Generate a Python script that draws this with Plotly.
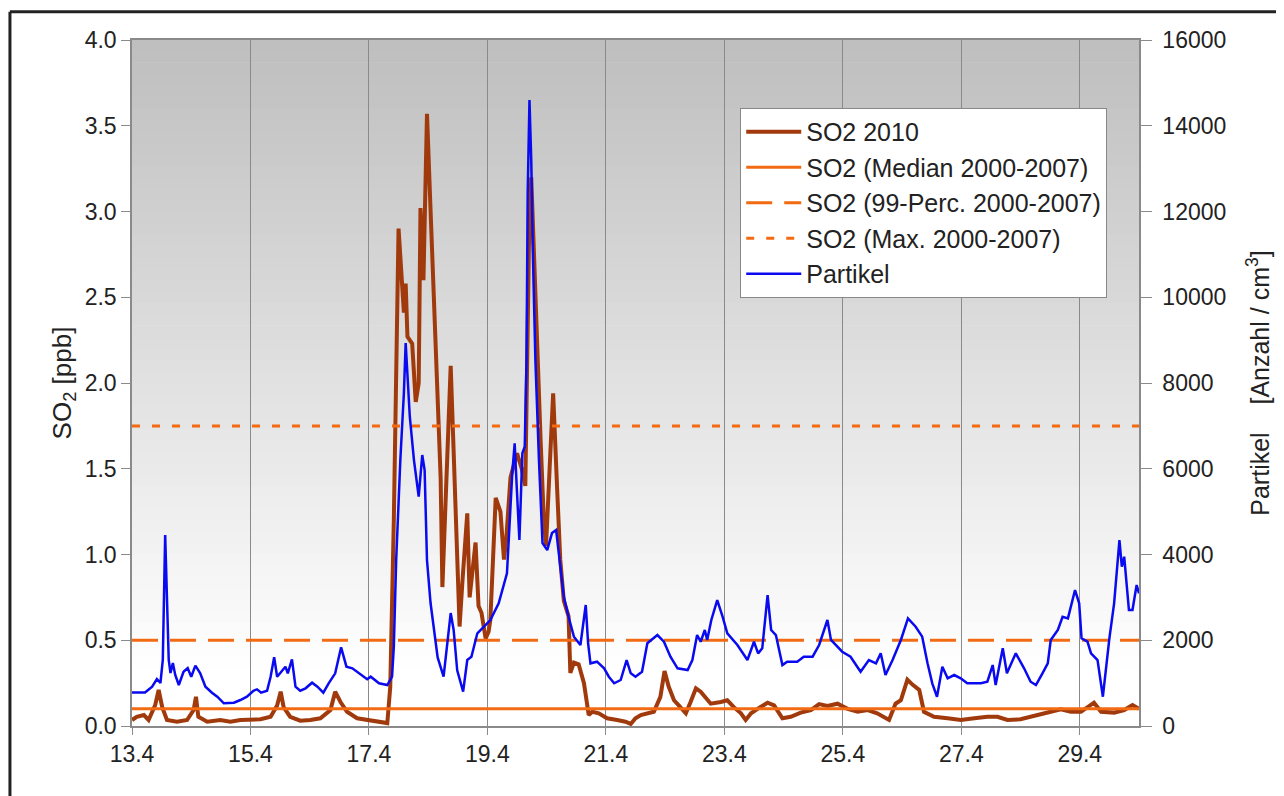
import plotly.graph_objects as go

# ---------------- data ----------------
# time in days of April (13.4 = 13 April)
so2_day = [13.00, 13.08, 13.20, 13.28, 13.39, 13.45, 13.51, 13.59, 13.76, 13.93, 14.04, 14.08, 14.12,
           14.27, 14.49, 14.66, 14.83, 15.00, 15.17, 15.34, 15.45, 15.51, 15.56, 15.67, 15.84, 16.01,
           16.18, 16.35, 16.43, 16.52, 16.63, 16.80, 16.97, 17.14, 17.31, 17.36, 17.42, 17.50, 17.59,
           17.62, 17.65, 17.73, 17.79, 17.84, 17.87, 17.92, 17.98, 18.04, 18.12, 18.21, 18.24, 18.38,
           18.43, 18.49, 18.53, 18.58, 18.66, 18.70, 18.75, 18.80, 18.85, 18.90, 18.97, 19.02, 19.05,
           19.10, 19.14, 19.22, 19.28, 19.32, 19.39, 19.50, 19.58, 19.64, 19.70, 19.74, 19.78, 19.84,
           19.90, 19.95, 19.99, 20.05, 20.11, 20.18, 20.23, 20.29, 20.37, 20.40, 20.46, 20.54, 20.63,
           20.71, 20.77, 20.88, 21.02, 21.19, 21.33, 21.42, 21.50, 21.59, 21.70, 21.81, 21.92, 21.99,
           22.06, 22.15, 22.23, 22.35, 22.43, 22.52, 22.60, 22.69, 22.77, 22.94, 23.05, 23.16, 23.28,
           23.36, 23.45, 23.56, 23.73, 23.84, 23.98, 24.12, 24.29, 24.46, 24.60, 24.74, 24.91, 25.08,
           25.25, 25.42, 25.58, 25.78, 25.89, 25.98, 26.09, 26.18, 26.29, 26.37, 26.54, 26.77, 26.99,
           27.22, 27.44, 27.61, 27.78, 28.00, 28.17, 28.34, 28.51, 28.68, 28.85, 29.02, 29.24, 29.36,
           29.58, 29.75, 29.89, 30.00]
so2_2010 = [0.035, 0.054, 0.064, 0.035, 0.12, 0.21, 0.11, 0.035, 0.025, 0.035, 0.093, 0.17, 0.054,
            0.025, 0.035, 0.025, 0.035, 0.035, 0.039, 0.054, 0.12, 0.20, 0.11, 0.054, 0.031, 0.035,
            0.045, 0.093, 0.20, 0.14, 0.083, 0.045, 0.035, 0.025, 0.017, 0.23, 1.20, 2.90, 2.41,
            2.58, 2.27, 2.23, 1.89, 2.00, 3.02, 2.60, 3.57, 3.01, 2.33, 1.45, 0.81, 2.10,
            1.60, 0.97, 0.58, 0.85, 1.24, 0.75, 0.90, 1.07, 0.70, 0.66, 0.51, 0.55, 0.62,
            1.00, 1.33, 1.25, 0.97, 1.10, 1.45, 1.59, 1.50, 1.40, 2.79, 3.20, 2.80, 2.13,
            1.65, 1.22, 1.05, 1.50, 1.94, 1.36, 0.97, 0.73, 0.64, 0.31, 0.37, 0.36, 0.25,
            0.064, 0.083, 0.074, 0.045, 0.035, 0.025, 0.012, 0.045, 0.064, 0.074, 0.083, 0.17, 0.32,
            0.23, 0.15, 0.12, 0.074, 0.14, 0.22, 0.20, 0.16, 0.13, 0.14, 0.15, 0.11, 0.074,
            0.035, 0.074, 0.10, 0.136, 0.12, 0.045, 0.054, 0.078, 0.093, 0.128, 0.117, 0.13, 0.10,
            0.083, 0.093, 0.074, 0.035, 0.13, 0.15, 0.27, 0.24, 0.21, 0.083, 0.054, 0.045, 0.035,
            0.045, 0.054, 0.054, 0.035, 0.039, 0.054, 0.074, 0.083, 0.097, 0.083, 0.083, 0.136, 0.083,
            0.078, 0.093, 0.122, 0.10]

part_day = [13.00, 13.22, 13.34, 13.42, 13.48, 13.52, 13.56, 13.59, 13.62, 13.65, 13.69, 13.73, 13.79,
            13.87, 13.94, 14.00, 14.07, 14.15, 14.24, 14.35, 14.44, 14.55, 14.72, 14.83, 14.94, 15.05,
            15.11, 15.18, 15.28, 15.34, 15.40, 15.45, 15.52, 15.59, 15.63, 15.70, 15.76, 15.84, 15.93,
            16.04, 16.13, 16.23, 16.32, 16.43, 16.53, 16.62, 16.72, 16.86, 16.97, 17.03, 17.17, 17.31,
            17.39, 17.42, 17.46, 17.53, 17.59, 17.62, 17.66, 17.69, 17.76, 17.84, 17.90, 17.94, 17.98,
            18.04, 18.16, 18.26, 18.38, 18.43, 18.49, 18.59, 18.66, 18.73, 18.83, 18.94, 19.05, 19.19,
            19.33, 19.42, 19.46, 19.50, 19.54, 19.59, 19.63, 19.66, 19.68, 19.71, 19.74, 19.77, 19.81,
            19.87, 19.93, 20.01, 20.09, 20.16, 20.23, 20.29, 20.37, 20.46, 20.57, 20.66, 20.70, 20.74,
            20.85, 20.97, 21.05, 21.14, 21.25, 21.35, 21.42, 21.50, 21.61, 21.70, 21.87, 21.98, 22.09,
            22.21, 22.38, 22.46, 22.54, 22.60, 22.67, 22.71, 22.78, 22.88, 22.97, 23.05, 23.22, 23.39,
            23.50, 23.57, 23.64, 23.73, 23.79, 23.87, 23.98, 24.06, 24.23, 24.34, 24.49, 24.60, 24.74,
            24.80, 24.99, 25.13, 25.30, 25.44, 25.56, 25.64, 25.72, 25.84, 25.98, 26.10, 26.23, 26.34,
            26.43, 26.51, 26.59, 26.68, 26.77, 26.88, 26.99, 27.10, 27.33, 27.44, 27.53, 27.58, 27.70,
            27.77, 27.92, 28.06, 28.17, 28.26, 28.37, 28.46, 28.51, 28.63, 28.71, 28.80, 28.92, 28.99,
            29.03, 29.13, 29.19, 29.30, 29.39, 29.50, 29.58, 29.67, 29.71, 29.75, 29.83, 29.89, 29.96,
            30.00]
partikel = [780, 780, 917, 1096, 1003, 1540, 4454, 2868, 1540, 1236, 1469, 1189, 956,
            1266, 1352, 1150, 1407, 1236, 917, 777, 683, 529, 543, 606, 683, 823,
            855, 777, 823, 1150, 1602, 1150, 1266, 1383, 1229, 1555, 917, 823, 879,
            1010, 917, 777, 996, 1229, 1835, 1383, 1345, 1213, 1089, 1150, 996, 956,
            1150, 1849, 3871, 6203, 7766, 8932, 7766, 7213, 6203, 5348, 6320, 5970, 3871,
            2868, 1600, 1150, 2635, 2239, 1300, 800, 1540, 1616, 2162, 2316, 2472, 2861,
            3561, 5900, 6592, 5433, 4338, 6359, 6514, 8535, 12430, 14598, 13199, 10867, 8535,
            6203, 4267, 4104, 4500, 4571, 3794, 3016, 2549, 2083, 1889, 2822, 1929, 1462,
            1500, 1346, 1150, 996, 1073, 1539, 1229, 1150, 1266, 1929, 2122, 1966, 1616,
            1346, 1306, 1539, 2122, 1966, 2239, 2006, 2472, 2938, 2549, 2162, 1889, 1539,
            1966, 1695, 1812, 3055, 2239, 2122, 1422, 1500, 1500, 1616, 1616, 1889, 2472,
            2006, 1733, 1616, 1266, 1539, 1462, 1695, 1189, 1539, 2006, 2511, 2316, 2083,
            1462, 996, 683, 1383, 1112, 1189, 1112, 996, 996, 1033, 1422, 956, 1812,
            1229, 1695, 1346, 1033, 956, 1229, 1462, 2006, 2239, 2549, 2511, 3171, 2861,
            2045, 1966, 1695, 1539, 683, 2045, 2861, 4338, 3715, 3948, 2705, 2705, 3288,
            3095]

ref_day = [13.0, 30.0]
so2_median = [0.1, 0.1]
so2_p99 = [0.5, 0.5]
so2_max = [1.75, 1.75]

x_ticks = [13, 15, 17, 19, 21, 23, 25, 27, 29]
x_ticklabels = ["13.4", "15.4", "17.4", "19.4", "21.4", "23.4", "25.4", "27.4", "29.4"]

# ---------------- styling ----------------
BROWN = "#a03a0c"
ORANGE = "#f26b13"
BLUE = "#0a0af0"
FONT = "Liberation Sans, Arial, Helvetica, sans-serif"
TXT = "#222222"

fig = go.Figure()
fig.add_trace(go.Scatter(x=so2_day, y=so2_2010, name="SO2 2010", mode="lines",
                         line=dict(color=BROWN, width=4), legendgroup="a"))
fig.add_trace(go.Scatter(x=ref_day, y=so2_median, name="SO2 (Median 2000-2007)", mode="lines",
                         line=dict(color=ORANGE, width=3), legendgroup="b"))
fig.add_trace(go.Scatter(x=ref_day, y=so2_p99, name="SO2 (99-Perc. 2000-2007)", mode="lines",
                         line=dict(color=ORANGE, width=3, dash="26px,12px"), legendgroup="c"))
fig.add_trace(go.Scatter(x=ref_day, y=so2_max, name="SO2 (Max. 2000-2007)", mode="lines",
                         line=dict(color=ORANGE, width=3, dash="8px,12px"), legendgroup="d"))
fig.add_trace(go.Scatter(x=part_day, y=partikel, name="Partikel", mode="lines", yaxis="y2",
                         line=dict(color=BLUE, width=2.5), legendgroup="e"))

# gradient background (grey at top to white at bottom)
shapes = []
nb = 60
for i in range(nb):
    f = i / nb  # 0 at bottom
    t = min(1.0, (1 - (i + 0.5) / nb) / 0.92)
    g = int(round(190 + (255 - 190) * t))
    shapes.append(dict(type="rect", xref="paper", yref="paper", x0=0, x1=1,
                       y0=f, y1=(i + 1) / nb + 0.001, fillcolor=f"rgb({g},{g},{g})",
                       line=dict(width=0), layer="below"))
# outer dark frame (top, left, right edges)
shapes.append(dict(type="line", xref="paper", yref="paper", x0=-0.1212, x1=1.140,
                   y0=1.041, y1=1.041, line=dict(color="#222222", width=3), layer="above"))
shapes.append(dict(type="line", xref="paper", yref="paper", x0=-0.1212, x1=-0.1212,
                   y0=1.041, y1=-0.12, line=dict(color="#222222", width=3), layer="above"))
shapes.append(dict(type="line", xref="paper", yref="paper", x0=1.140, x1=1.140,
                   y0=1.041, y1=-0.12, line=dict(color="#cccccc", width=1.5), layer="above"))

fig.update_layout(
    width=1276, height=788,
    paper_bgcolor="white", plot_bgcolor="white",
    margin=dict(l=124, r=145, t=32, b=70),
    font=dict(family=FONT, size=23, color=TXT),
    shapes=shapes,
    showlegend=True,
    legend=dict(x=0.604, y=0.901, xanchor="left", yanchor="top",
                bgcolor="white", bordercolor="#888888", borderwidth=1,
                font=dict(family=FONT, size=25, color=TXT),
                itemwidth=55, tracegroupgap=2, traceorder="normal"),
    xaxis=dict(range=[13, 30], tickvals=x_ticks, ticktext=x_ticklabels,
               showgrid=True, gridcolor="#8a8a8a", gridwidth=1,
               showline=True, linecolor="#8a8a8a", linewidth=1.5, mirror=True,
               ticks="outside", ticklen=7, tickcolor="#8a8a8a",
               tickfont=dict(size=23, color=TXT), zeroline=False),
    yaxis=dict(range=[0, 4], dtick=0.5, tickformat=".1f", showgrid=False,
               showline=True, linecolor="#8a8a8a", linewidth=1.5,
               ticks="outside", ticklen=9, tickcolor="#8a8a8a",
               tickfont=dict(size=23, color=TXT), zeroline=False,
               title=dict(text="SO<sub>2</sub> [ppb]", font=dict(size=26, color=TXT), standoff=6)),
    yaxis2=dict(range=[0, 16000], dtick=2000, tickformat="d", overlaying="y", side="right",
                showgrid=False, showline=True, linecolor="#8a8a8a", linewidth=1.5,
                ticks="outside", ticklen=11, tickcolor="#8a8a8a", ticklabelstandoff=6,
                tickfont=dict(size=23, color=TXT), zeroline=False,
                title=dict(text="Partikel\u00a0\u00a0\u00a0\u00a0[Anzahl / cm<sup>3</sup>]",
                           font=dict(size=25, color=TXT), standoff=26)),
)

fig.write_html("out.html")
